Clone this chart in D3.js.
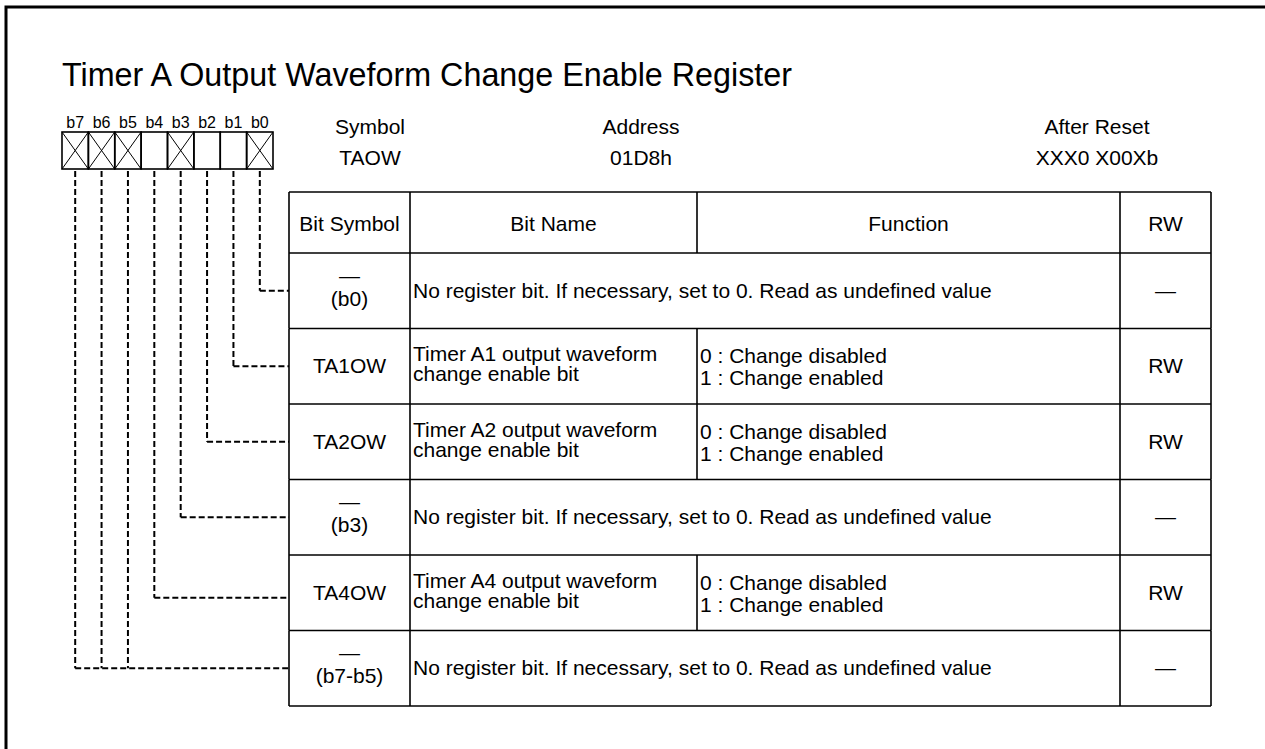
<!DOCTYPE html>
<html>
<head>
<meta charset="utf-8">
<script src="https://cdn.jsdelivr.net/npm/d3@7"></script>
<style>
  html, body { margin: 0; padding: 0; background: #fff; }
  svg { display: block; font-family: "Liberation Sans", Arial, sans-serif; }
</style>
</head>
<body>
<svg id="chart" width="1265" height="749"></svg>
<script>
// ---- data ----
const title = "Timer A Output Waveform Change Enable Register";
const bits = ["b7", "b6", "b5", "b4", "b3", "b2", "b1", "b0"];
const bitReserved = [true, true, true, false, true, false, false, true];
const headerLabels = ["Symbol", "Address", "After Reset"];
const headerValues = ["TAOW", "01D8h", "XXX0 X00Xb"];
const columnTitles = ["Bit Symbol", "Bit Name", "Function", "RW"];
const rowSymbols = ["(b0)", "TA1OW", "TA2OW", "(b3)", "TA4OW", "(b7-b5)"];
const rowReserved = [true, false, false, true, false, true];
const rowNames = [
  ["No register bit. If necessary, set to 0. Read as undefined value"],
  ["Timer A1 output waveform", "change enable bit"],
  ["Timer A2 output waveform", "change enable bit"],
  ["No register bit. If necessary, set to 0. Read as undefined value"],
  ["Timer A4 output waveform", "change enable bit"],
  ["No register bit. If necessary, set to 0. Read as undefined value"]
];
const rowFunctions = [
  [],
  ["0 : Change disabled", "1 : Change enabled"],
  ["0 : Change disabled", "1 : Change enabled"],
  [],
  ["0 : Change disabled", "1 : Change enabled"],
  []
];
const rowRW = ["—", "RW", "RW", "—", "RW", "—"];
const rowBits = [["b0"], ["b1"], ["b2"], ["b3"], ["b4"], ["b7", "b6", "b5"]];

// ---- layout ----
const svg = d3.select("#chart");
const W = 1265, H = 749;
const FS = 21;

// outer frame
svg.append("rect").attr("x", 6).attr("y", 7).attr("width", W + 20).attr("height", H + 20)
  .attr("fill", "none").attr("stroke", "#000").attr("stroke-width", 3);

svg.append("text").attr("x", 62).attr("y", 86).attr("font-size", 32.3).attr("fill", "#000").text(title);

// bit boxes
const xBit = d3.scaleBand().domain(bits).range([62, 273]);
const boxTop = 132, boxBot = 169;
const bitG = svg.append("g");
bits.forEach((b, i) => {
  const x0 = xBit(b), w = xBit.bandwidth();
  bitG.append("text").attr("x", x0 + w / 2).attr("y", 128).attr("text-anchor", "middle")
    .attr("font-size", 16).attr("fill", "#000").text(b);
  bitG.append("rect").attr("x", x0).attr("y", boxTop).attr("width", w).attr("height", boxBot - boxTop)
    .attr("fill", "none").attr("stroke", "#000").attr("stroke-width", 1.6);
  if (bitReserved[i]) {
    bitG.append("line").attr("x1", x0).attr("y1", boxTop).attr("x2", x0 + w).attr("y2", boxBot)
      .attr("stroke", "#000").attr("stroke-width", 1);
    bitG.append("line").attr("x1", x0 + w).attr("y1", boxTop).attr("x2", x0).attr("y2", boxBot)
      .attr("stroke", "#000").attr("stroke-width", 1);
  }
});

// header info
const headerX = d3.scaleOrdinal().domain(headerLabels).range([370, 641, 1097]);
headerLabels.forEach((h, i) => {
  svg.append("text").attr("x", headerX(h)).attr("y", 134).attr("text-anchor", "middle")
    .attr("font-size", FS).attr("fill", "#000").text(h);
  svg.append("text").attr("x", headerX(h)).attr("y", 165).attr("text-anchor", "middle")
    .attr("font-size", FS).attr("fill", "#000").text(headerValues[i]);
});

// table
const colEdges = [289, 410, 697, 1120, 1211];
const tableTop = 192, headBot = 253, tableBot = 706;
const yRow = d3.scaleBand().domain(d3.range(rowSymbols.length)).range([headBot, tableBot]);
const tG = svg.append("g");
const line = (x1, y1, x2, y2, sw) => tG.append("line").attr("x1", x1).attr("y1", y1).attr("x2", x2).attr("y2", y2)
  .attr("stroke", "#000").attr("stroke-width", sw || 1.6);

// header row
line(colEdges[0], tableTop, colEdges[4], tableTop);
colEdges.forEach(x => line(x, tableTop, x, headBot));
columnTitles.forEach((c, i) => {
  tG.append("text").attr("x", (colEdges[i] + colEdges[i + 1]) / 2).attr("y", 231)
    .attr("text-anchor", "middle").attr("font-size", FS).attr("fill", "#000").text(c);
});
line(colEdges[0], headBot, colEdges[4], headBot);

rowSymbols.forEach((s, r) => {
  const y0 = yRow(r), h = yRow.bandwidth(), y1 = y0 + h, cy = y0 + h / 2;
  line(colEdges[0], y1, colEdges[4], y1);
  line(colEdges[0], y0, colEdges[0], y1);
  line(colEdges[1], y0, colEdges[1], y1);
  if (!rowReserved[r]) line(colEdges[2], y0, colEdges[2], y1);
  line(colEdges[3], y0, colEdges[3], y1);
  line(colEdges[4], y0, colEdges[4], y1);
  const cx1 = (colEdges[0] + colEdges[1]) / 2;
  if (rowReserved[r]) {
    tG.append("text").attr("x", cx1).attr("y", cy - 8).attr("text-anchor", "middle")
      .attr("font-size", FS).attr("fill", "#000").text("—");
    tG.append("text").attr("x", cx1).attr("y", cy + 15).attr("text-anchor", "middle")
      .attr("font-size", FS).attr("fill", "#000").text(s);
    tG.append("text").attr("x", colEdges[1] + 3).attr("y", cy + 7)
      .attr("font-size", FS).attr("fill", "#000").text(rowNames[r][0]);
  } else {
    tG.append("text").attr("x", cx1).attr("y", cy + 7).attr("text-anchor", "middle")
      .attr("font-size", FS).attr("fill", "#000").text(s);
    rowNames[r].forEach((t, k) => tG.append("text").attr("x", colEdges[1] + 3).attr("y", cy - 5 + k * 20)
      .attr("font-size", FS).attr("fill", "#000").text(t));
    rowFunctions[r].forEach((t, k) => tG.append("text").attr("x", colEdges[2] + 3).attr("y", cy - 3 + k * 22)
      .attr("font-size", FS).attr("fill", "#000").text(t));
  }
  tG.append("text").attr("x", (colEdges[3] + colEdges[4]) / 2).attr("y", cy + 7).attr("text-anchor", "middle")
    .attr("font-size", FS).attr("fill", "#000").text(rowRW[r]);

  // dashed leader lines
  const xs = rowBits[r].map(b => xBit(b) + xBit.bandwidth() / 2);
  const ly = cy + (r === 4 ? 5 : 0);
  const dG = svg.append("g").attr("fill", "none").attr("stroke", "#000").attr("stroke-width", 2)
    .attr("stroke-dasharray", "6,3");
  xs.forEach(x => dG.append("path").attr("d", `M${x},${boxBot + 2}V${ly}`));
  dG.append("path").attr("d", `M${d3.min(xs)},${ly}H${colEdges[0]}`);
});
</script>
</body>
</html>
